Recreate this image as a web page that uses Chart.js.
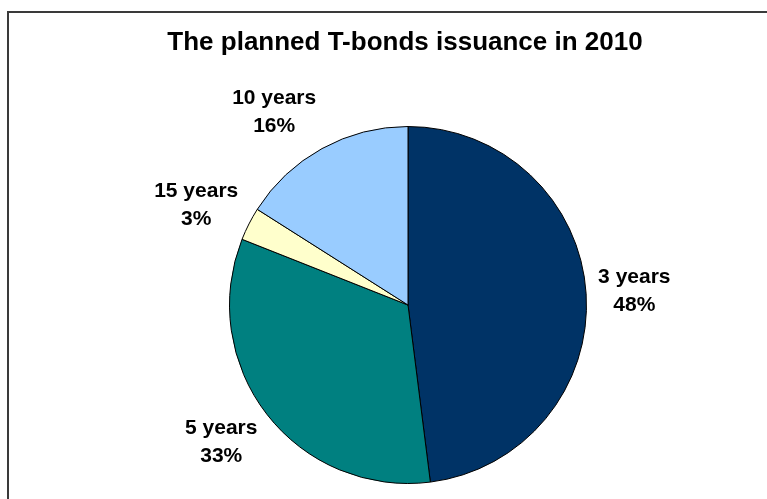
<!DOCTYPE html>
<html>
<head>
<meta charset="utf-8">
<script src="https://cdn.jsdelivr.net/npm/chart.js@4/dist/chart.umd.min.js"></script>
<style>
  html, body { margin:0; padding:0; background:#fff; overflow:hidden; }
  #wrap { position:relative; width:767px; height:499px; }
  #frame { position:absolute; left:7px; top:11px; width:800px; height:520px;
           border-left:2px solid #3a3a3a; border-top:2px solid #3a3a3a; box-sizing:border-box; }
  canvas { position:absolute; left:0; top:0; }
</style>
</head>
<body>
<div id="wrap">
  <div id="frame"></div>
  <canvas id="chart" width="767" height="499"></canvas>
</div>
<script>
const title = "The planned T-bonds issuance in 2010";
const labels = ["3 years", "5 years", "15 years", "10 years"];
const values = [48, 33, 3, 16];
const colors = ["#003366", "#008080", "#FFFFCC", "#99CCFF"];

const FONT = "'Liberation Sans', Arial, sans-serif";

// -------- TITLE + LABELS --------
// Chart.js squeezes its own title into the chart area width, so draw it here
const textPlugin = {
  id: "textPlugin",
  afterDatasetsDraw(chart){
    const ctx = chart.ctx;
    const meta = chart.getDatasetMeta(0);
    const total = values.reduce((a,b)=>a+b,0);
    ctx.save();
    ctx.fillStyle = "#000";
    ctx.textAlign = "center";
    ctx.textBaseline = "middle";

    ctx.font = "bold 26px " + FONT;
    ctx.fillText(title, 405, 43);

    ctx.font = "bold 21px " + FONT;
    meta.data.forEach((arc,i)=>{
      const mid = (arc.startAngle + arc.endAngle)/2;
      const ux = Math.cos(mid), uy = Math.sin(mid);
      const pct = Math.round(values[i]/total*100) + "%";
      const w = Math.max(ctx.measureText(labels[i]).width, ctx.measureText(pct).width);
      const x = arc.x + (arc.outerRadius + 12)*ux + Math.sign(ux)*w/2;
      const y = arc.y + (arc.outerRadius + 42)*uy + (uy > 0 ? 2 : 0);
      ctx.fillText(labels[i], x, y - 14);
      ctx.fillText(pct, x, y + 14);
    });
    ctx.restore();
  }
};

new Chart(document.getElementById("chart"), {
  type: "pie",
  data: {
    labels,
    datasets: [{
      data: values,
      backgroundColor: colors,
      borderColor: "#000",
      borderWidth: 1
    }]
  },
  options: {
    responsive: false,
    animation: false,
    layout: { padding: { left: 229, right: 180, top: 126, bottom: 15 } },
    plugins: {
      legend: { display: false },
      tooltip: { enabled: false },
      title: { display: false }
    }
  },
  plugins: [textPlugin]
});
</script>
</body>
</html>
